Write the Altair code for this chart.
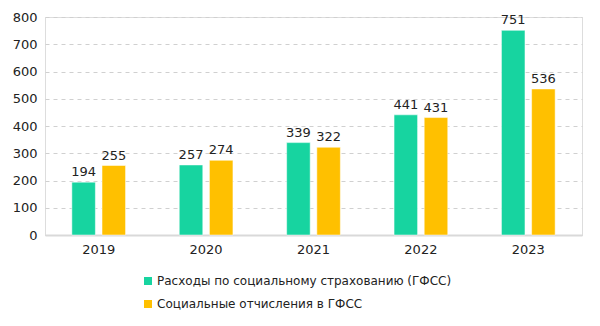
import altair as alt
import pandas as pd

years = ["2019", "2020", "2021", "2022", "2023"]
series_names = ["Расходы по социальному страхованию (ГФСС)", "Социальные отчисления в ГФСС"]
expenses = [194, 257, 339, 441, 751]
contributions = [255, 274, 322, 431, 536]
colors = ["#17D4A0", "#FFC000"]
y_ticks = [0, 100, 200, 300, 400, 500, 600, 700, 800]

rows = []
for i, y in enumerate(years):
    rows.append({"year": y, "series": series_names[0], "value": expenses[i]})
    rows.append({"year": y, "series": series_names[1], "value": contributions[i]})
df = pd.DataFrame(rows)

FONT = "DejaVu Sans"

base = alt.Chart(df).encode(
    x=alt.X("year:N", title=None, sort=years,
            scale=alt.Scale(paddingInner=0.5, paddingOuter=0.25),
            axis=alt.Axis(labelAngle=0, labelFont=FONT, labelFontSize=13, labelColor="#222",
                          ticks=False, domainColor="#d9d9d9", domainWidth=2, labelPadding=8)),
    xOffset=alt.XOffset("series:N", sort=series_names,
                        scale=alt.Scale(paddingInner=0.22, paddingOuter=0)),
    y=alt.Y("value:Q", title=None, scale=alt.Scale(domain=[0, 800]),
            axis=alt.Axis(values=y_ticks, labelOverlap=False, labelFont=FONT,
                          labelFontSize=13, labelColor="#222", ticks=False, domain=False,
                          gridDash=[4, 4], gridColor="#d0d0d0", labelPadding=8)),
)

bars = base.mark_bar(stroke="white", strokeWidth=0.5).encode(
    color=alt.Color("series:N", sort=series_names,
                    scale=alt.Scale(domain=series_names, range=colors),
                    legend=alt.Legend(title=None, orient="none", legendX=97, legendY=258,
                                      direction="vertical", symbolType="square", symbolSize=64,
                                      labelFont=FONT, labelFontSize=12, labelColor="#222",
                                      labelOffset=3, rowPadding=11, symbolStrokeWidth=0,
                                      labelLimit=400)),
)

labels = base.mark_text(dy=-10, font=FONT, fontSize=13, color="#222").encode(
    text=alt.Text("value:Q"),
)

chart = (bars + labels).properties(
    width=537, height=218,
    autosize=alt.AutoSizeParams(type="none"),
    padding={"left": 45, "top": 17, "right": 18, "bottom": 91},
).configure_view(stroke=None).configure(background="white")

chart.save("out.html", embed_options={"renderer": "svg", "actions": False})
